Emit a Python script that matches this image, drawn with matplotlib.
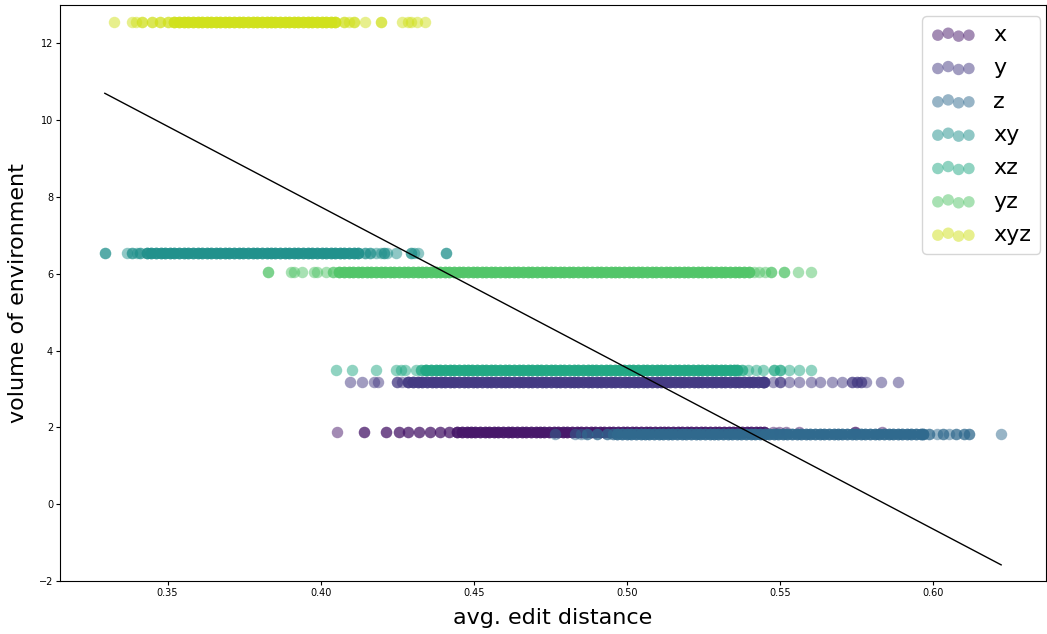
import numpy as np
import matplotlib
matplotlib.use("Agg")
import matplotlib.pyplot as plt

# Environment groups (axes of variation) and their environment volume
groups = ["x", "y", "z", "xy", "xz", "yz", "xyz"]
volumes = [1.89, 3.17, 1.83, 6.55, 3.50, 6.05, 12.56]
colors = ["#48186a", "#443a83", "#306a8e", "#21918c", "#22a884", "#52c569", "#d0e11c"]

# Avg. edit distance of individual runs: sparse outlying runs (repeated values = coinciding runs)
x_tail = [0.4052, 0.4140, 0.4140, 0.4214, 0.4214, 0.4255, 0.4255, 0.4286, 0.4286,
          0.4320, 0.4320, 0.4355, 0.4355, 0.4390, 0.4390, 0.4420, 0.4420,
          0.5475, 0.5495, 0.5520, 0.5560, 0.5745, 0.5745, 0.5833]
y_tail = [0.4094, 0.4136, 0.4175, 0.4188, 0.4250, 0.4250, 0.4265,
          0.5475, 0.5500, 0.5500, 0.5530, 0.5560, 0.5600, 0.5630, 0.5670, 0.5700,
          0.5735, 0.5735, 0.5750, 0.5750, 0.5765, 0.5765, 0.5780, 0.5830, 0.5883]
z_tail = [0.4766, 0.4831, 0.4850, 0.4870, 0.4870, 0.4903, 0.4903, 0.4935, 0.4935,
          0.4955, 0.4955, 0.5984, 0.5984, 0.6010, 0.6030, 0.6030, 0.6050,
          0.6075, 0.6075, 0.6100, 0.6100, 0.6115, 0.6115, 0.6221]
xy_tail = [0.3295, 0.3295, 0.3367, 0.3383, 0.3383, 0.3400, 0.3410, 0.3410,
           0.4145, 0.4145, 0.4162, 0.4162, 0.4180, 0.4195, 0.4205, 0.4205, 0.4215,
           0.4244, 0.4295, 0.4295, 0.4305, 0.4318, 0.4409, 0.4409]
xz_tail = [0.4049, 0.4101, 0.4179, 0.4247, 0.4262, 0.4276, 0.4312, 0.4328, 0.4328,
           0.4340, 0.5375, 0.5375, 0.5395, 0.5420, 0.5445, 0.5480, 0.5480,
           0.5500, 0.5500, 0.5530, 0.5560, 0.5601]
yz_tail = [0.3828, 0.3828, 0.3903, 0.3912, 0.3938, 0.3977, 0.3987, 0.4016,
           0.4040, 0.4040, 0.5415, 0.5432, 0.5450, 0.5471, 0.5471,
           0.5513, 0.5513, 0.5558, 0.5601]
xyz_tail = [0.3325, 0.3385, 0.3398, 0.3415, 0.3415, 0.3450, 0.3450, 0.3475, 0.3475,
            0.3500, 0.3500, 0.4075, 0.4075, 0.4091, 0.4110, 0.4110, 0.4143,
            0.4198, 0.4198, 0.4266, 0.4286, 0.4295, 0.4315, 0.4340]

# Avg. edit distance values where many runs pile up
x_core = [0.4445, 0.4460, 0.4476, 0.4490, 0.4505, 0.4521, 0.4535, 0.4550, 0.4566, 0.4580,
          0.4595, 0.4611, 0.4625, 0.4640, 0.4656, 0.4670, 0.4685, 0.4701, 0.4715, 0.4730,
          0.4746, 0.4760, 0.4775, 0.4791, 0.4805, 0.4820, 0.4836, 0.4850, 0.4865, 0.4881,
          0.4895, 0.4910, 0.4926, 0.4940, 0.4955, 0.4971, 0.4985, 0.5000, 0.5016, 0.5030,
          0.5045, 0.5061, 0.5075, 0.5090, 0.5106, 0.5120, 0.5135, 0.5151, 0.5165, 0.5180,
          0.5196, 0.5210, 0.5225, 0.5241, 0.5255, 0.5270, 0.5286, 0.5300, 0.5315, 0.5331,
          0.5345, 0.5360, 0.5376, 0.5390, 0.5405, 0.5421, 0.5435, 0.5446]
y_core = [0.4286, 0.4301, 0.4317, 0.4331, 0.4346, 0.4362, 0.4376, 0.4391, 0.4407, 0.4421,
          0.4436, 0.4452, 0.4466, 0.4481, 0.4497, 0.4511, 0.4526, 0.4542, 0.4556, 0.4571,
          0.4587, 0.4601, 0.4616, 0.4632, 0.4646, 0.4661, 0.4677, 0.4691, 0.4706, 0.4722,
          0.4736, 0.4751, 0.4767, 0.4781, 0.4796, 0.4812, 0.4826, 0.4841, 0.4857, 0.4871,
          0.4886, 0.4902, 0.4916, 0.4931, 0.4947, 0.4961, 0.4976, 0.4992, 0.5006, 0.5021,
          0.5037, 0.5051, 0.5066, 0.5082, 0.5096, 0.5111, 0.5127, 0.5141, 0.5156, 0.5172,
          0.5186, 0.5201, 0.5217, 0.5231, 0.5246, 0.5262, 0.5276, 0.5291, 0.5307, 0.5321,
          0.5336, 0.5352, 0.5366, 0.5381, 0.5397, 0.5411, 0.5426, 0.5442, 0.5448]
z_core = [0.4968, 0.4983, 0.4999, 0.5013, 0.5028, 0.5044, 0.5058, 0.5073, 0.5089, 0.5103,
          0.5118, 0.5134, 0.5148, 0.5163, 0.5179, 0.5193, 0.5208, 0.5224, 0.5238, 0.5253,
          0.5269, 0.5283, 0.5298, 0.5314, 0.5328, 0.5343, 0.5359, 0.5373, 0.5388, 0.5404,
          0.5418, 0.5433, 0.5449, 0.5463, 0.5478, 0.5494, 0.5508, 0.5523, 0.5539, 0.5553,
          0.5568, 0.5584, 0.5598, 0.5613, 0.5629, 0.5643, 0.5658, 0.5674, 0.5688, 0.5703,
          0.5719, 0.5733, 0.5748, 0.5764, 0.5778, 0.5793, 0.5809, 0.5823, 0.5838, 0.5854,
          0.5868, 0.5883, 0.5899, 0.5913, 0.5928, 0.5944, 0.5958, 0.5966]
xy_core = [0.3432, 0.3447, 0.3463, 0.3477, 0.3492, 0.3508, 0.3522, 0.3537, 0.3553, 0.3567,
           0.3582, 0.3598, 0.3612, 0.3627, 0.3643, 0.3657, 0.3672, 0.3688, 0.3702, 0.3717,
           0.3733, 0.3747, 0.3762, 0.3778, 0.3792, 0.3807, 0.3823, 0.3837, 0.3852, 0.3868,
           0.3882, 0.3897, 0.3913, 0.3927, 0.3942, 0.3958, 0.3972, 0.3987, 0.4003, 0.4017,
           0.4032, 0.4048, 0.4062, 0.4077, 0.4093, 0.4107, 0.4122]
xz_core = [0.4345, 0.4360, 0.4376, 0.4390, 0.4405, 0.4421, 0.4435, 0.4450, 0.4466, 0.4480,
           0.4495, 0.4511, 0.4525, 0.4540, 0.4556, 0.4570, 0.4585, 0.4601, 0.4615, 0.4630,
           0.4646, 0.4660, 0.4675, 0.4691, 0.4705, 0.4720, 0.4736, 0.4750, 0.4765, 0.4781,
           0.4795, 0.4810, 0.4826, 0.4840, 0.4855, 0.4871, 0.4885, 0.4900, 0.4916, 0.4930,
           0.4945, 0.4961, 0.4975, 0.4990, 0.5006, 0.5020, 0.5035, 0.5051, 0.5065, 0.5080,
           0.5096, 0.5110, 0.5125, 0.5141, 0.5155, 0.5170, 0.5186, 0.5200, 0.5215, 0.5231,
           0.5245, 0.5260, 0.5276, 0.5290, 0.5305, 0.5321, 0.5335, 0.5350, 0.5358]
yz_core = [0.4060, 0.4075, 0.4091, 0.4105, 0.4120, 0.4136, 0.4150, 0.4165, 0.4181, 0.4195,
           0.4210, 0.4226, 0.4240, 0.4255, 0.4271, 0.4285, 0.4300, 0.4316, 0.4330, 0.4345,
           0.4361, 0.4375, 0.4390, 0.4406, 0.4420, 0.4435, 0.4451, 0.4465, 0.4480, 0.4496,
           0.4510, 0.4525, 0.4541, 0.4555, 0.4570, 0.4586, 0.4600, 0.4615, 0.4631, 0.4645,
           0.4660, 0.4676, 0.4690, 0.4705, 0.4721, 0.4735, 0.4750, 0.4766, 0.4780, 0.4795,
           0.4811, 0.4825, 0.4840, 0.4856, 0.4870, 0.4885, 0.4901, 0.4915, 0.4930, 0.4946,
           0.4960, 0.4975, 0.4991, 0.5005, 0.5020, 0.5036, 0.5050, 0.5065, 0.5081, 0.5095,
           0.5110, 0.5126, 0.5140, 0.5155, 0.5171, 0.5185, 0.5200, 0.5216, 0.5230, 0.5245,
           0.5261, 0.5275, 0.5290, 0.5306, 0.5320, 0.5335, 0.5351, 0.5365, 0.5380, 0.5397]
xyz_core = [0.3522, 0.3537, 0.3553, 0.3567, 0.3582, 0.3598, 0.3612, 0.3627, 0.3643, 0.3657,
            0.3672, 0.3688, 0.3702, 0.3717, 0.3733, 0.3747, 0.3762, 0.3778, 0.3792, 0.3807,
            0.3823, 0.3837, 0.3852, 0.3868, 0.3882, 0.3897, 0.3913, 0.3927, 0.3942, 0.3958,
            0.3972, 0.3987, 0.4003, 0.4017, 0.4032, 0.4046]
runs_per_core_value = 4

# Least-squares fit of volume on avg. edit distance
fit_slope = -41.97
fit_intercept = 24.53

tails = [x_tail, y_tail, z_tail, xy_tail, xz_tail, yz_tail, xyz_tail]
cores = [x_core, y_core, z_core, xy_core, xz_core, yz_core, xyz_core]

fig = plt.figure(figsize=(10.47, 6.34), dpi=100)
ax = fig.add_axes([0.0573, 0.0836, 0.9417, 0.9085])

all_x = []
for name, vol, col, tail, core in zip(groups, volumes, colors, tails, cores):
    xs = np.concatenate([np.asarray(tail), np.repeat(core, runs_per_core_value)])
    xs = np.sort(xs)
    ys = np.full_like(xs, vol)
    ax.scatter(xs, ys, s=68, color=col, alpha=0.5, linewidths=0, label=name)
    all_x.append(xs)

all_x = np.concatenate(all_x)
line_x = np.array([all_x.min(), all_x.max()])
ax.plot(line_x, fit_intercept + fit_slope * line_x, color="black", linewidth=1.0)

ax.set_ylim(-2, 13)
ax.set_yticks([-2, 0, 2, 4, 6, 8, 10, 12])
ax.set_xticks([0.35, 0.40, 0.45, 0.50, 0.55, 0.60])
ax.tick_params(labelsize=7, length=3, pad=2)
ax.set_xlabel("avg. edit distance", fontsize=16, labelpad=7)
ax.set_ylabel("volume of environment", fontsize=16, labelpad=8)
ax.legend(loc="upper right", bbox_to_anchor=(1.0055, 1.0), fontsize=16,
          scatterpoints=4, labelspacing=0.6)

fig.savefig("out.png", dpi=100)
